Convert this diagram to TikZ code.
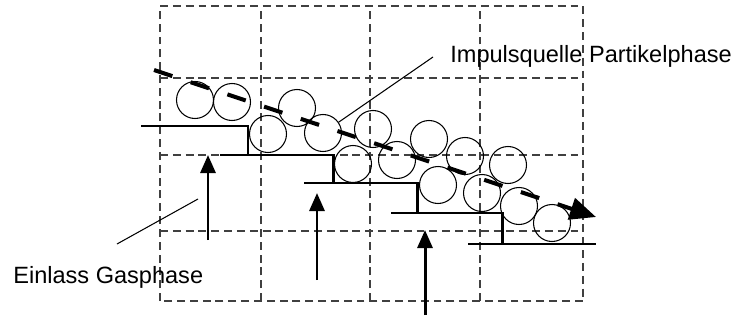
\documentclass[tikz,border=0pt]{standalone}
\usepackage{fontspec}
\setmainfont{Liberation Sans}
\usetikzlibrary{arrows.meta}

\begin{document}
\begin{tikzpicture}[
    gridline/.style={draw=black!75, line width=0.6pt, dash pattern=on 4.5pt off 2.8pt},
    stepline/.style={line width=1.7pt},
    particle/.style={circle, draw, line width=0.6pt, minimum size=0.74cm, inner sep=0pt},
    inflow/.style={line width=1.7pt, -{Triangle[length=0.36cm, width=0.3cm]}},
    flow/.style={line width=2.3pt, dash pattern=on 11pt off 11pt, -{Triangle[length=0.52cm, width=0.44cm]}},
    leader/.style={line width=0.6pt},
    label/.style={anchor=base west, inner sep=0pt, font=\fontsize{13.4}{16}\selectfont}
]
\useasboundingbox (0,0) rectangle (14.7,6.4);

% Grid
\draw[gridline] (3.2,0.38) rectangle (11.66,6.28);
\draw[gridline] (5.22,0.38) -- (5.22,6.28);
\draw[gridline] (7.4,0.38) -- (7.4,6.28);
\draw[gridline] (9.6,0.38) -- (9.6,6.28);
\draw[gridline] (3.2,4.84) -- (11.66,4.84);
\draw[gridline] (3.2,3.3) -- (11.66,3.3);
\draw[gridline] (3.2,1.78) -- (11.66,1.78);

% Steps
\draw[stepline] (2.82,3.88) -| (4.96,3.3);
\draw[stepline] (4.4,3.3) -| (6.66,2.74);
\draw[stepline] (6.08,2.74) -| (8.34,2.14);
\draw[stepline] (7.82,2.14) -| (10.04,1.52);
\draw[stepline] (9.36,1.52) -- (11.92,1.52);

% Particles
\node[particle] (p1) at (3.9,4.4) {};
\node[particle] (p2) at (4.64,4.36) {};
\node[particle] (p3) at (5.36,3.72) {};
\node[particle] (p4) at (5.94,4.24) {};
\node[particle] (p5) at (6.46,3.74) {};
\node[particle] (p6) at (7.46,3.82) {};
\node[particle] (p7) at (7.06,3.12) {};
\node[particle] (p8) at (7.94,3.2) {};
\node[particle] (p9) at (8.58,3.62) {};
\node[particle] (p10) at (9.3,3.28) {};
\node[particle] (p11) at (8.76,2.7) {};
\node[particle] (p12) at (9.64,2.54) {};
\node[particle] (p13) at (10.16,3.1) {};
\node[particle] (p14) at (10.38,2.28) {};
\node[particle] (p15) at (11.04,1.94) {};

% Particle flow
\coordinate (flowstart) at (3.08,5.0);
\coordinate (flowend) at (11.92,2.06);
\draw[flow] (flowstart) -- (flowend);

% Gas inlets
\coordinate (in1a) at (4.16,1.6);
\coordinate (in1b) at (4.16,3.3);
\coordinate (in2a) at (6.34,0.8);
\coordinate (in2b) at (6.34,2.54);
\coordinate (in3a) at (8.5,0.1);
\coordinate (in3b) at (8.5,1.8);
\draw[inflow] (in1a) -- (in1b);
\draw[inflow] (in2a) -- (in2b);
\draw[inflow] (in3a) -- (in3b);

% Labels
\node[label] (impuls) at (9.0,5.16) {Impulsquelle Partikelphase};
\coordinate (impulsend) at (8.66,5.26);
\draw[leader] (impulsend) -- (p5);

\node[label] (gas) at (0.26,0.74) {Einlass Gasphase};
\coordinate (gasa) at (2.34,1.52);
\coordinate (gasb) at (3.96,2.42);
\draw[leader] (gasa) -- (gasb);

\end{tikzpicture}
\end{document}
